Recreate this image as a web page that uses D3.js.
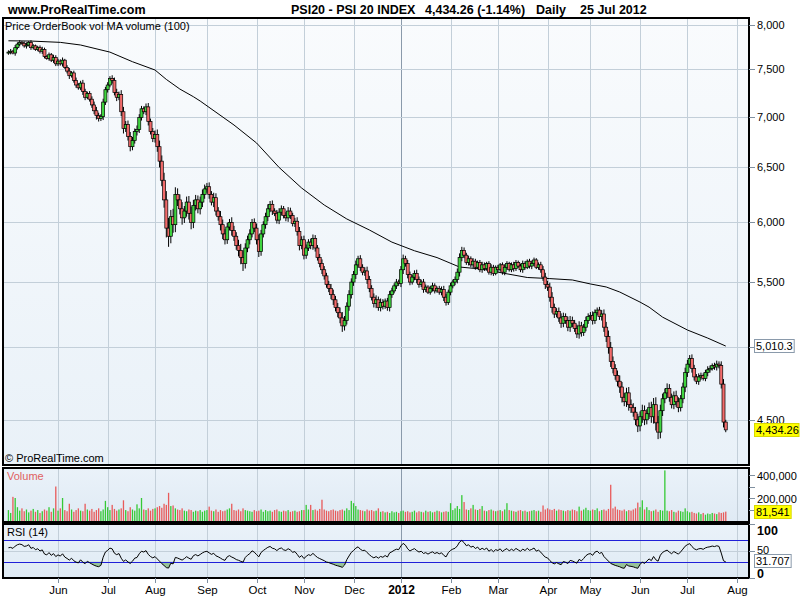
<!DOCTYPE html>
<html><head><meta charset="utf-8">
<script src="https://cdn.jsdelivr.net/npm/d3@7"></script>
<style>
body{margin:0;background:#fff}
svg{display:block}
text{font-family:"Liberation Sans",Arial,Helvetica,sans-serif}
</style>
</head><body>
<svg id="c" width="800" height="600"></svg>
<script>
// ---------------- DATA ----------------
const firstDay = "2011-05-02";
const axisEndDay = "2012-08-03";
const holidays = ["2011-12-26","2012-04-06","2012-04-09","2012-05-01"];
const monthLabels = ["Jun","Jul","Aug","Sep","Oct","Nov","Dec","2012","Feb","Mar","Apr","May","Jun","Jul","Aug"];
const priceTicks = [8000,7500,7000,6500,6000,5500,5000,4500];
const priceLabelTicks = [8000,7500,7000,6500,6000,5500,4500];
const volTicksK = [400,300,200,100];
const volLabelTicksK = [400,200];
const rsiTicks = [100,50,0];
const rsiBands = [70,30];
const rsiLast = 31.707;
const rsiSeedGain = 28, rsiSeedLoss = 22;   // averages carried in from before the window
const headerSite = "www.ProRealTime.com";
const headerTitle = ["PSI20 - PSI 20 INDEX","4,434.26 (-1.14%)","Daily","25 Jul 2012"];

const firstOpen = 7680;
const closes = [
// May 2011
7690,7700,7680,7740,7780,7800,7790,7760,7770,7800,7740,7760,7720,7740,7700,7720,7640,7620,7660,7600,7630,7560,
// Jun
7590,7560,7600,7520,7480,7430,7460,7380,7330,7300,7350,7260,7200,7240,7180,7120,7060,7010,6980,7000,7150,7280,
// Jul
7330,7400,7380,7250,7200,7230,7050,6880,6920,6800,6700,6760,6850,6870,6990,7080,7050,7100,6950,6850,6780,
// Aug
6820,6700,6560,6380,6200,5950,5880,6050,5980,6250,6200,6120,6040,6100,6180,6080,6000,6150,6200,6120,6180,6250,6300,
// Sep
6320,6250,6180,6220,6100,6050,5980,5900,5850,5960,6000,5930,5880,5800,5760,5700,5650,5780,5850,5900,6000,5950,
// Oct
5850,5750,5900,5980,6050,6120,6160,6100,6080,6020,6090,6120,6060,6040,6100,6060,5990,6010,5920,5800,5850,
// Nov
5720,5780,5830,5800,5860,5780,5700,5650,5600,5550,5480,5450,5400,5360,5300,5260,5220,5160,5200,5310,5400,5500,
// Dec
5560,5640,5690,5620,5580,5590,5520,5450,5380,5330,5360,5300,5340,5310,5350,5300,5400,5430,5470,5500,5490,
// Jan 2012
5600,5690,5650,5560,5500,5540,5570,5520,5480,5500,5440,5460,5420,5450,5470,5430,5450,5420,5440,5380,5340,5420,
// Feb
5470,5500,5520,5580,5700,5760,5720,5660,5690,5640,5670,5620,5660,5600,5640,5610,5650,5580,5620,5570,5620,
// Mar
5600,5640,5580,5620,5650,5600,5640,5610,5660,5630,5600,5650,5620,5670,5630,5650,5680,5620,5640,5600,5540,5480,
// Apr
5460,5380,5300,5250,5270,5220,5180,5230,5200,5150,5200,5180,5140,5100,5160,5110,5150,5200,5230,
// May
5240,5200,5260,5280,5230,5250,5150,5080,5000,4900,4850,4800,4760,4720,4650,4620,4680,4600,4580,4550,4500,4460,
// Jun
4520,4560,4500,4540,4580,4520,4600,4480,4420,4560,4640,4680,4710,4650,4600,4660,4620,4580,4640,4720,4820,
// Jul
4880,4920,4850,4790,4760,4790,4800,4780,4820,4840,4850,4870,4860,4880,4870,4740,4485,4434.26
];
const wicks = [
20,25,15,30,20,25,15,20,30,15,25,20,15,20,25,30,20,15,25,20,30,25,
25,20,30,15,25,35,20,25,30,20,25,35,30,20,25,30,35,40,30,25,35,30,
30,25,35,30,40,30,45,50,35,40,45,35,30,40,35,30,25,35,40,30,35,
40,50,60,55,70,80,90,60,70,65,55,50,60,45,50,55,60,50,45,40,50,45,40,
35,40,30,45,40,35,50,45,40,35,30,45,40,35,50,55,60,40,35,40,30,35,
40,45,35,30,35,40,30,35,25,30,35,30,25,30,35,30,25,30,35,40,30,
35,30,25,30,35,30,25,30,35,30,25,30,35,40,30,35,40,45,35,30,35,30,
30,35,25,30,25,30,35,30,25,30,35,25,30,25,20,25,30,25,20,25,20,
30,35,25,30,25,20,25,30,25,20,25,20,15,20,25,20,15,20,25,30,25,20,
25,20,25,30,35,30,25,20,25,20,25,20,15,20,25,20,15,20,25,20,15,
20,15,20,25,20,15,20,25,20,15,20,25,20,15,20,25,20,15,20,25,30,35,
30,35,40,30,25,30,35,30,25,30,35,30,25,30,35,30,25,30,25,
25,30,25,20,25,30,35,40,45,40,35,30,35,40,35,30,35,40,35,30,35,40,
35,40,35,30,35,40,45,50,45,40,35,30,35,30,25,30,35,30,25,30,35,
30,25,30,25,20,25,20,15,20,25,20,15,20,25,20,30,35,15
];
// volume in thousands of shares
const volK = [
95,70,210,200,120,90,110,85,100,75,90,105,80,95,70,85,100,90,120,80,110,300,
90,110,200,95,85,150,100,80,95,110,90,85,150,100,90,105,80,95,110,85,100,175,
120,95,140,105,90,100,110,180,95,85,120,100,90,145,110,200,100,95,110,90,105,
110,120,130,115,150,140,245,130,135,110,100,95,110,90,85,100,95,80,90,85,95,80,90,
95,125,90,85,100,80,95,85,90,100,110,150,95,90,100,85,110,95,90,85,80,95,
85,90,100,80,95,85,90,80,95,100,85,80,90,85,95,80,85,90,80,85,95,
95,140,100,140,95,100,90,105,185,100,90,85,95,100,90,85,95,100,90,110,95,175,
155,130,100,95,90,85,100,90,95,85,90,110,80,85,75,80,70,85,75,80,70,
85,90,80,85,75,80,90,75,85,80,75,90,80,85,75,80,90,85,75,80,85,80,
155,95,110,130,105,225,165,100,95,110,140,100,95,105,130,90,85,95,100,90,85,
90,95,85,100,155,95,90,85,80,90,95,85,90,80,85,90,95,85,90,80,135,100,
110,100,95,105,90,100,95,90,85,95,90,100,95,85,125,90,100,115,95,
90,100,95,110,85,95,100,90,105,315,110,125,100,95,90,100,85,95,90,100,110,160,
120,180,100,120,95,85,90,100,80,95,90,440,90,85,95,80,75,90,85,80,110,
85,75,80,70,65,75,60,70,55,65,60,70,65,60,75,70,75,81.541
];
// moving average line: trading-day index and value
const maIdx = [0,10,23,32,45,55,65,70,76,82,85,100,110,120,130,140,150,160,170,180,190,200,210,220,230,240,250,258,265,271,280,284,290,301,310,318];
const maVal = [7818,7815,7800,7770,7690,7583,7492,7390,7287,7206,7161,6915,6736,6500,6308,6154,6030,5934,5830,5757,5700,5622,5605,5570,5537,5528,5517,5485,5461,5421,5342,5303,5226,5129,5069,5010.3];

// ---------------- CHART ----------------
const svg = d3.select("#c");
const parse = d3.timeParse("%Y-%m-%d"), fmtD = d3.timeFormat("%Y-%m-%d");
const days = d3.timeDay.range(parse(firstDay), parse(axisEndDay))
  .filter(d => d.getDay() % 6 !== 0 && !holidays.includes(fmtD(d)));
const monthStarts = [];
days.forEach((d, i) => { if (i > 0 && d.getMonth() !== days[i-1].getMonth()) monthStarts.push(i); });

const L = 3, R = 749;
const P = {top: 18, bot: 465}, V = {top: 468, bot: 522}, S = {top: 524, bot: 578};

const x = d3.scaleLinear().domain([-2.4, 328.3]).range([L, R]);
const y = d3.scaleLog().domain([4213, 8082]).range([P.bot, P.top]);
const yv = d3.scaleLinear().domain([0, 400]).range([521, 475]);
const yr = d3.scaleLinear().domain([0, 100]).range([S.bot, S.top]);

const data = closes.map((c, i) => {
  const o = i === 0 ? firstOpen : closes[i-1];
  return {i, o, c, h: Math.max(o, c) + wicks[i], l: Math.min(o, c) - wicks[i], v: volK[i]};
});

// defs
const defs = svg.append("defs");
const g1 = defs.append("linearGradient").attr("id","pbg").attr("x1",0).attr("y1",0).attr("x2",0).attr("y2",1);
g1.append("stop").attr("offset","0%").attr("stop-color","#f9fbfd");
g1.append("stop").attr("offset","100%").attr("stop-color","#e9f1f8");
const g2 = defs.append("linearGradient").attr("id","sbg").attr("x1",0).attr("y1",0).attr("x2",0).attr("y2",1);
g2.append("stop").attr("offset","0%").attr("stop-color","#eaf2f9");
g2.append("stop").attr("offset","100%").attr("stop-color","#dfeaf4");
[["pc",P],["vc",V],["sc",S]].forEach(([id,p]) => defs.append("clipPath").attr("id",id)
  .append("rect").attr("x",L).attr("y",p.top).attr("width",R-L).attr("height",p.bot-p.top));

// header
svg.append("text").attr("x",8).attr("y",14).attr("font-size",12.5).attr("font-weight","bold").text(headerSite);
const hx = [291,425,536,580];
headerTitle.forEach((t,k) => svg.append("text").attr("x",hx[k]).attr("y",14).attr("font-size",12.5).attr("font-weight","bold").text(t));

// panel backgrounds
svg.append("rect").attr("x",L).attr("y",P.top).attr("width",R-L).attr("height",P.bot-P.top).attr("fill","url(#pbg)");
[V,S].forEach(p => svg.append("rect").attr("x",L).attr("y",p.top).attr("width",R-L).attr("height",p.bot-p.top).attr("fill","url(#sbg)"));

const gridC = "#c3cfd9";
// vertical month gridlines
[P,V,S].forEach(p => {
  svg.append("g").selectAll("line").data(monthStarts).join("line")
    .attr("x1", d => Math.round(x(d))+0.5).attr("x2", d => Math.round(x(d))+0.5)
    .attr("y1", p.top).attr("y2", p.bot)
    .attr("stroke", (d,k) => monthLabels[k] === "2012" ? "#8a9aab" : gridC).attr("stroke-width",1);
});
// horizontal price gridlines
svg.append("g").selectAll("line").data(priceTicks).join("line")
  .attr("x1",L).attr("x2",R).attr("y1",d=>Math.round(y(d))+0.5).attr("y2",d=>Math.round(y(d))+0.5)
  .attr("stroke",gridC);
// RSI 50 gridline
svg.append("line").attr("x1",L).attr("x2",R).attr("y1",Math.round(yr(50))+0.5).attr("y2",Math.round(yr(50))+0.5).attr("stroke",gridC);

// MA line
const maPts = maIdx.map((d,k) => [d, maVal[k]]);
svg.append("path").attr("clip-path","url(#pc)")
  .attr("d", d3.line().x(d=>x(d[0])).y(d=>y(d[1]))(maPts))
  .attr("fill","none").attr("stroke","#000").attr("stroke-width",1);

// candles
const up = "#3fd43f", dn = "#f26b6b";
const cg = svg.append("g").attr("clip-path","url(#pc)");
cg.selectAll("line").data(data).join("line")
  .attr("x1",d=>x(d.i)).attr("x2",d=>x(d.i)).attr("y1",d=>y(d.h)).attr("y2",d=>y(d.l))
  .attr("stroke","#000").attr("stroke-width",1);
cg.selectAll("rect").data(data).join("rect")
  .attr("x",d=>x(d.i)-1.5).attr("width",3)
  .attr("y",d=>y(Math.max(d.o,d.c)))
  .attr("height",d=>Math.max(1, y(Math.min(d.o,d.c)) - y(Math.max(d.o,d.c))))
  .attr("fill",d=> d.c >= d.o ? up : dn).attr("stroke","#000").attr("stroke-width",0.7);

// volume bars
svg.append("g").attr("clip-path","url(#vc)").selectAll("rect").data(data).join("rect")
  .attr("x",d=>x(d.i)-0.65).attr("width",1.3)
  .attr("y",d=>yv(d.v)).attr("height",d=>yv(0)-yv(d.v))
  .attr("fill",d=> d.c >= d.o ? "#35c935" : "#e85a5a");

// RSI (14) from closes, Wilder smoothing
const rsi = [];
let ag = rsiSeedGain, al = rsiSeedLoss;
rsi.push({i: 0, v: 100 - 100/(1 + ag/al)});
for (let i = 1; i < closes.length; i++) {
  const ch = closes[i] - closes[i-1];
  ag = (ag*13 + Math.max(ch,0)) / 14;
  al = (al*13 + Math.max(-ch,0)) / 14;
  rsi.push({i, v: al === 0 ? 100 : 100 - 100/(1 + ag/al)});
}
const sg = svg.append("g").attr("clip-path","url(#sc)");
sg.append("path").attr("d", d3.area().x(d=>x(d.i)).y0(yr(30)).y1(d=>yr(Math.min(d.v,30)))(rsi))
  .attr("fill","#8fbf8f").attr("opacity",0.9);
sg.append("path").attr("d", d3.area().x(d=>x(d.i)).y0(yr(70)).y1(d=>yr(Math.max(d.v,70)))(rsi))
  .attr("fill","#e8a0a0").attr("opacity",0.9);
rsiBands.forEach(b => sg.append("line").attr("x1",L).attr("x2",R).attr("y1",Math.round(yr(b))+0.5).attr("y2",Math.round(yr(b))+0.5)
  .attr("stroke","#2020d8").attr("stroke-width",1.2));
sg.append("path").attr("d", d3.line().x(d=>x(d.i)).y(d=>yr(d.v))(rsi))
  .attr("fill","none").attr("stroke","#000").attr("stroke-width",1);

// panel borders
[P,V,S].forEach(p => svg.append("rect").attr("x",L).attr("y",p.top).attr("width",R-L).attr("height",p.bot-p.top)
  .attr("fill","none").attr("stroke","#000").attr("stroke-width",2));

// panel labels
svg.append("text").attr("x",5).attr("y",30).attr("font-size",11).text("Price OrderBook vol MA volume (100)");
svg.append("text").attr("x",5).attr("y",462).attr("font-size",11).text("© ProRealTime.com");
svg.append("text").attr("x",7).attr("y",480).attr("font-size",11).attr("fill","#e06060").text("Volume");
svg.append("text").attr("x",7).attr("y",536).attr("font-size",11).text("RSI (14)");

// right axes
const tickC = "#8090a0";
const fmtN = d3.format(",");
const AX = 11;
const yAxisG = svg.append("g");
priceTicks.forEach(t => {
  const yy = Math.round(y(t))+0.5;
  yAxisG.append("line").attr("x1",R).attr("x2",755).attr("y1",yy).attr("y2",yy).attr("stroke",tickC);
});
priceLabelTicks.forEach(t => yAxisG.append("text").attr("x",757).attr("y",Math.round(y(t))+4).attr("font-size",AX).text(fmtN(t)));
volTicksK.forEach(t => {
  const yy = Math.round(yv(t))+0.5;
  yAxisG.append("line").attr("x1",R).attr("x2",755).attr("y1",yy).attr("y2",yy).attr("stroke",tickC);
});
volLabelTicksK.forEach(t => yAxisG.append("text").attr("x",757).attr("y",Math.round(yv(t))+4.5).attr("font-size",AX).text(fmtN(t*1000)));
rsiTicks.forEach(t => {
  const yy = Math.round(yr(t))+0.5;
  yAxisG.append("line").attr("x1",R).attr("x2",755).attr("y1",yy).attr("y2",yy).attr("stroke",tickC);
  const ty = t === 100 ? yy+10 : (t === 0 ? yy-1 : yy+2);
  yAxisG.append("text").attr("x",757).attr("y",ty).attr("font-size",t===50?AX:12.5)
    .attr("font-weight", t===50 ? "normal" : "bold").text(t);
});

// value boxes (width fitted to the text)
function box(cy, txt, fill) {
  const g = svg.append("g");
  const r = g.append("rect").attr("x",754.5).attr("y",Math.round(cy)-6.5).attr("height",13)
    .attr("fill",fill).attr("stroke", fill === "#ffff00" ? "#d8d800" : "#8a9aab").attr("stroke-width",1);
  const t = g.append("text").attr("x",756).attr("y",Math.round(cy)+4).attr("font-size",AX).text(txt);
  r.attr("width", Math.min(44.5, t.node().getComputedTextLength() + 3));
}
box(y(maVal[maVal.length-1]), d3.format(",.1f")(maVal[maVal.length-1]), "#ffffff");
box(y(closes[closes.length-1]), d3.format(",.2f")(closes[closes.length-1]), "#ffff00");
box(yv(volK[volK.length-1]), fmtN(Math.round(volK[volK.length-1]*1000)), "#ffff00");
box(yr(rsiLast), d3.format(".3f")(rsiLast), "#ffffff");

// x axis
const xa = svg.append("g");
monthStarts.forEach((m,k) => {
  const xx = Math.round(x(m))+0.5;
  const isYear = monthLabels[k] === "2012";
  xa.append("line").attr("x1",xx).attr("x2",xx).attr("y1",S.bot).attr("y2",S.bot+5).attr("stroke",tickC);
  xa.append("text").attr("x",xx).attr("y",594).attr("text-anchor","middle").attr("font-size",isYear ? 12 : 11.5)
    .attr("font-weight", isYear ? "bold" : "normal").text(monthLabels[k]);
});
</script>
</body></html>
